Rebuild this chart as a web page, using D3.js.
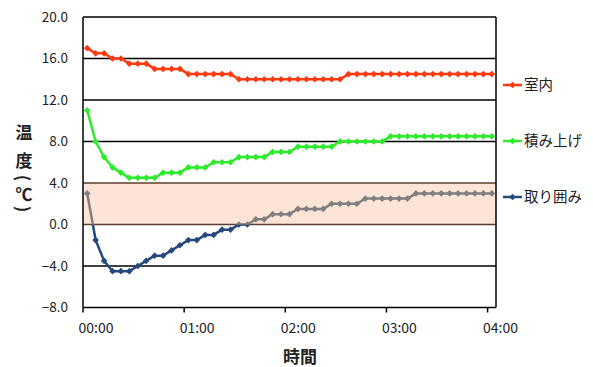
<!DOCTYPE html>
<html>
<head>
<meta charset="utf-8">
<script src="https://cdn.jsdelivr.net/npm/d3@7"></script>
<style>
  html, body { margin: 0; padding: 0; background: #fff; }
  svg { display: block; }
  text { font-family: "Noto Sans CJK JP", "Noto Sans", sans-serif; fill: #222; }
</style>
</head>
<body>
<svg id="chart" width="593" height="367"></svg>
<script>
// Sample times, one every 5 minutes from 00:00 to 04:00
const times = [
  "00:00","00:05","00:10","00:15","00:20","00:25","00:30","00:35","00:40","00:45","00:50","00:55",
  "01:00","01:05","01:10","01:15","01:20","01:25","01:30","01:35","01:40","01:45","01:50","01:55",
  "02:00","02:05","02:10","02:15","02:20","02:25","02:30","02:35","02:40","02:45","02:50","02:55",
  "03:00","03:05","03:10","03:15","03:20","03:25","03:30","03:35","03:40","03:45","03:50","03:55",
  "04:00"
];
const hourLabels = ["00:00", "01:00", "02:00", "03:00", "04:00"];

// Temperatures (°C)
const indoor = [
  17.0, 16.5, 16.5, 16.0, 16.0, 15.5, 15.5, 15.5, 15.0, 15.0, 15.0, 15.0,
  14.5, 14.5, 14.5, 14.5, 14.5, 14.5, 14.0, 14.0, 14.0, 14.0, 14.0, 14.0,
  14.0, 14.0, 14.0, 14.0, 14.0, 14.0, 14.0, 14.5, 14.5, 14.5, 14.5, 14.5,
  14.5, 14.5, 14.5, 14.5, 14.5, 14.5, 14.5, 14.5, 14.5, 14.5, 14.5, 14.5,
  14.5
];
const stacked = [
  11.0, 8.0, 6.5, 5.5, 5.0, 4.5, 4.5, 4.5, 4.5, 5.0, 5.0, 5.0,
  5.5, 5.5, 5.5, 6.0, 6.0, 6.0, 6.5, 6.5, 6.5, 6.5, 7.0, 7.0,
  7.0, 7.5, 7.5, 7.5, 7.5, 7.5, 8.0, 8.0, 8.0, 8.0, 8.0, 8.0,
  8.5, 8.5, 8.5, 8.5, 8.5, 8.5, 8.5, 8.5, 8.5, 8.5, 8.5, 8.5,
  8.5
];
const enclosed = [
  3.0, -1.5, -3.5, -4.5, -4.5, -4.5, -4.0, -3.5, -3.0, -3.0, -2.5, -2.0,
  -1.5, -1.5, -1.0, -1.0, -0.5, -0.5, 0.0, 0.0, 0.5, 0.5, 1.0, 1.0,
  1.0, 1.5, 1.5, 1.5, 1.5, 2.0, 2.0, 2.0, 2.0, 2.5, 2.5, 2.5,
  2.5, 2.5, 2.5, 3.0, 3.0, 3.0, 3.0, 3.0, 3.0, 3.0, 3.0, 3.0,
  3.0
];

const seriesNames = ["室内", "積み上げ", "取り囲み"];
const yTicks = [20, 16, 12, 8, 4, 0, -4, -8];
const bandRange = [0, 4];   // shaded range

const colors = { "室内": "#FF3A10", "積み上げ": "#2BEB2B", "取り囲み": "#24497C" };
const aboveZeroColor = "#808080";

(function () {
  const svg = d3.select("#chart");
  const pl = 83, pr = 496, pt = 17, pb = 307.5;

  const x = d3.scaleBand().domain(times).range([pl, pr]).padding(0);
  const y = d3.scaleLinear().domain([-8, 20]).range([pb, pt]);
  const cx = d => x(d.t) + x.bandwidth() / 2;

  // Shaded band
  svg.append("rect")
    .attr("x", pl).attr("width", pr - pl)
    .attr("y", y(bandRange[1])).attr("height", y(bandRange[0]) - y(bandRange[1]))
    .attr("fill", "#FCE4D6");

  // Horizontal gridlines
  svg.append("g").selectAll("line")
    .data(yTicks)
    .join("line")
    .attr("x1", pl).attr("x2", pr)
    .attr("y1", d => y(d)).attr("y2", d => y(d))
    .attr("stroke", d => (d === bandRange[0] || d === bandRange[1]) ? "#5E3E2E" : "#000")
    .attr("stroke-width", 1.5);

  // Vertical frame lines
  svg.append("line").attr("x1", pl).attr("x2", pl).attr("y1", pt).attr("y2", pb)
    .attr("stroke", "#000").attr("stroke-width", 1.5);
  svg.append("line").attr("x1", pr).attr("x2", pr).attr("y1", pt).attr("y2", pb)
    .attr("stroke", "#000").attr("stroke-width", 1.5);

  // X ticks at hour boundaries
  svg.append("g").selectAll("line")
    .data(hourLabels)
    .join("line")
    .attr("x1", d => x(d)).attr("x2", d => x(d))
    .attr("y1", pb).attr("y2", pb + 5)
    .attr("stroke", "#000").attr("stroke-width", 1.5);

  svg.append("g").selectAll("text")
    .data(hourLabels)
    .join("text")
    .attr("x", d => x(d) + 13).attr("y", 333)
    .attr("text-anchor", "middle")
    .attr("font-size", 14)
    .text(d => d);

  // Y tick labels
  svg.append("g").selectAll("text")
    .data(yTicks)
    .join("text")
    .attr("x", 68).attr("y", d => y(d))
    .attr("dy", "0.36em")
    .attr("text-anchor", "end")
    .attr("font-size", 13.5)
    .text(d => d3.format(".1f")(d));

  // Axis titles
  svg.append("text")
    .attr("x", 300).attr("y", 363)
    .attr("text-anchor", "middle")
    .attr("font-size", 17).attr("font-weight", "bold")
    .text("時間");

  // Vertical y title: characters stacked, parentheses turned sideways
  const yTitle = [
    { ch: "温", y: 131, rot: 0 },
    { ch: "度", y: 159, rot: 0 },
    { ch: "(", y: 178, rot: 90 },
    { ch: "℃", y: 193, rot: 0 },
    { ch: ")", y: 209, rot: 90 }
  ];
  svg.append("g").selectAll("text")
    .data(yTitle)
    .join("text")
    .attr("transform", d => `translate(24,${d.y}) rotate(${d.rot})`)
    .attr("dominant-baseline", "central")
    .attr("text-anchor", "middle")
    .attr("font-size", 17).attr("font-weight", "bold")
    .text(d => d.ch);

  // Series
  const line = d3.line().x(cx).y(d => y(d.v));
  const marker = d3.symbol().type(d3.symbolSquare).size(22);

  function drawSeries(g, data, color) {
    g.append("path").datum(data)
      .attr("d", line)
      .attr("fill", "none")
      .attr("stroke", color)
      .attr("stroke-width", 2.5)
      .attr("stroke-linejoin", "round");
    g.selectAll("path.m").data(data).join("path")
      .attr("class", "m")
      .attr("d", marker)
      .attr("transform", d => `translate(${cx(d)},${y(d.v)}) rotate(45)`)
      .attr("fill", color);
  }

  const toData = vals => vals.map((v, i) => ({ t: times[i], v }));

  // Enclosed series: grey above 0 °C, blue below
  const defs = svg.append("defs");
  defs.append("clipPath").attr("id", "clipAbove").append("rect")
    .attr("x", 0).attr("y", 0).attr("width", 593).attr("height", y(0));
  defs.append("clipPath").attr("id", "clipBelow").append("rect")
    .attr("x", 0).attr("y", y(0)).attr("width", 593).attr("height", 367 - y(0));

  drawSeries(svg.append("g").attr("clip-path", "url(#clipBelow)"), toData(enclosed), colors["取り囲み"]);
  drawSeries(svg.append("g").attr("clip-path", "url(#clipAbove)"), toData(enclosed), aboveZeroColor);
  drawSeries(svg.append("g"), toData(stacked), colors["積み上げ"]);
  drawSeries(svg.append("g"), toData(indoor), colors["室内"]);

  // Legend
  const legendY = [85, 141, 197];
  const leg = svg.append("g").selectAll("g")
    .data(seriesNames)
    .join("g")
    .attr("transform", (d, i) => `translate(503,${legendY[i]})`);
  leg.append("line").attr("x1", 0).attr("x2", 19).attr("y1", 0).attr("y2", 0)
    .attr("stroke", d => colors[d]).attr("stroke-width", 2.5);
  leg.append("path").attr("d", marker)
    .attr("transform", "translate(9.5,0) rotate(45)")
    .attr("fill", d => colors[d]);
  leg.append("text")
    .attr("x", 21).attr("y", 0).attr("dy", "0.36em")
    .attr("font-size", 14.5)
    .text(d => d);
})();
</script>
</body>
</html>
